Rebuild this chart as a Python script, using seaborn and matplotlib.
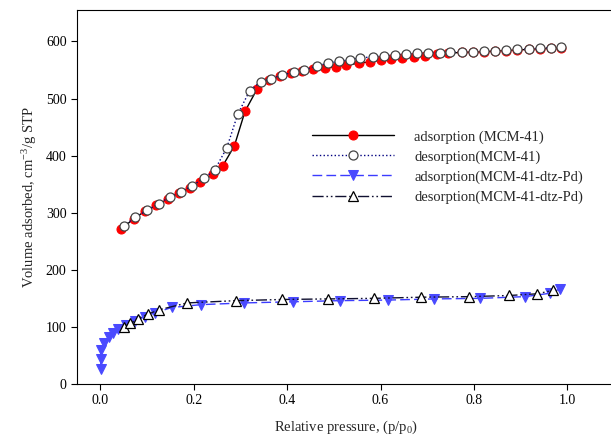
import matplotlib
matplotlib.use("Agg")
import matplotlib.pyplot as plt
import seaborn as sns
import pandas as pd

# MCM-41 adsorption
ads_mcm_x = [0.044, 0.071, 0.096, 0.120, 0.145, 0.168, 0.191, 0.213, 0.241, 0.262, 0.287, 0.310,
             0.336, 0.362, 0.384, 0.408, 0.432, 0.455, 0.482, 0.504, 0.527, 0.553, 0.577, 0.600,
             0.623, 0.647, 0.671, 0.696, 0.722, 0.745, 0.774, 0.799, 0.822, 0.846, 0.869, 0.893,
             0.918, 0.942, 0.965, 0.987]
ads_mcm_y = [271, 289, 303, 313, 324, 334, 344, 353, 367, 382, 417, 478,
             517, 532, 539, 544, 548, 551, 553, 556, 558, 562, 564, 567,
             569, 571, 573, 575, 578, 579, 581, 581, 582, 583, 584, 585,
             586, 587, 588, 589]
# MCM-41 desorption
des_mcm_x = [0.050, 0.075, 0.100, 0.125, 0.150, 0.173, 0.196, 0.223, 0.245, 0.271, 0.294, 0.320,
             0.343, 0.366, 0.389, 0.414, 0.437, 0.463, 0.488, 0.511, 0.535, 0.557, 0.583, 0.607,
             0.632, 0.655, 0.678, 0.701, 0.728, 0.749, 0.774, 0.799, 0.822, 0.846, 0.869, 0.893,
             0.918, 0.942, 0.965, 0.987]
des_mcm_y = [277, 292, 304, 316, 328, 337, 347, 361, 375, 414, 472, 514,
             529, 535, 541, 546, 550, 557, 562, 565, 568, 571, 573, 575,
             577, 578, 579, 580, 580, 581, 582, 582, 583, 584, 585, 586,
             587, 588, 589, 590]
# MCM-41-dtz-Pd adsorption
ads_dtz_x = [0.001, 0.001, 0.002, 0.007, 0.018, 0.028, 0.037, 0.055, 0.075, 0.095, 0.118, 0.153,
             0.216, 0.308, 0.412, 0.514, 0.616, 0.715, 0.814, 0.909, 0.964, 0.985]
ads_dtz_y = [26, 43, 59, 72, 82, 90, 96, 103, 110, 118, 125, 134,
             139, 142, 144, 146, 147, 149, 150, 153, 159, 167]
# MCM-41-dtz-Pd desorption
des_dtz_x = [0.051, 0.064, 0.080, 0.101, 0.126, 0.186, 0.291, 0.389, 0.487, 0.585, 0.687, 0.790,
             0.876, 0.936, 0.969]
des_dtz_y = [100, 106, 114, 122, 130, 142, 146, 148, 149, 150, 152, 153,
             155, 158, 164]

labels = ["adsorption (MCM-41)", "desorption(MCM-41)",
          "adsorption(MCM-41-dtz-Pd)", "desorption(MCM-41-dtz-Pd)"]
xticks = [0.0, 0.2, 0.4, 0.6, 0.8, 1.0]
yticks = [0, 100, 200, 300, 400, 500, 600]

sns.set_style("ticks")
plt.rcParams["font.family"] = ["Liberation Serif", "DejaVu Serif"]
plt.rcParams["mathtext.fontset"] = "custom"
plt.rcParams["mathtext.rm"] = "Liberation Serif"
plt.rcParams["mathtext.it"] = "Liberation Serif:italic"
plt.rcParams["font.size"] = 10

W, H = 611, 436
fig = plt.figure(figsize=(W / 100, H / 100), dpi=100)
ax = fig.add_axes([77 / W, 1 - 384 / H, (614 - 77) / W, (384 - 10) / H])

ms = 6.5
common = dict(ax=ax, estimator=None, sort=False, legend=False)
sns.lineplot(x=ads_mcm_x, y=ads_mcm_y, color="black", linewidth=1.0, marker="o",
             markersize=ms, markerfacecolor="#ff0000", markeredgecolor="#ff0000",
             label=labels[0], **common)
sns.lineplot(x=des_mcm_x, y=des_mcm_y, color="#000080", linewidth=1.0, linestyle=":",
             marker="o", markersize=ms, markerfacecolor="white", markeredgecolor="#444444",
             markeredgewidth=0.9, label=labels[1], **common)
sns.lineplot(x=ads_dtz_x, y=ads_dtz_y, color="#3c3cff", linewidth=1.0,
             linestyle=(0, (7, 3)), marker="v", markersize=ms,
             markerfacecolor="#4a4aff", markeredgecolor="#4a4aff",
             label=labels[2], **common)
sns.lineplot(x=des_dtz_x, y=des_dtz_y, color="#101030", linewidth=1.0,
             linestyle=(0, (8, 2, 1.2, 2, 1.2, 2)), marker="^", markersize=ms,
             markerfacecolor="white", markeredgecolor="black", markeredgewidth=0.9,
             label=labels[3], **common)

ax.set_xlim(-0.05, 1.1)
ax.set_ylim(0, 655)
ax.set_xticks(xticks)
ax.set_xticklabels([f"{t:.1f}" for t in xticks])
ax.set_yticks(yticks)
ax.tick_params(direction="out", length=4, width=0.8, labelsize=10, colors="black")
for s in ax.spines.values():
    s.set_linewidth(0.8)
    s.set_color("black")

ax.set_xlabel("Relative pressure, (p/p$_0$)", fontsize=10.5, labelpad=8)
ax.set_ylabel("Volume adsorbed, cm$^{-3}$/g STP", fontsize=10.5, labelpad=5)

handles, labs = ax.get_legend_handles_labels()
ax.legend(handles, labs, loc="center left", bbox_to_anchor=(312 / W, 1 - 167 / H),
          bbox_transform=fig.transFigure, frameon=False, fontsize=10.5,
          handlelength=5.6, handletextpad=1.4, borderpad=0, borderaxespad=0,
          labelspacing=0.45)

fig.savefig("out.png", dpi=100)
